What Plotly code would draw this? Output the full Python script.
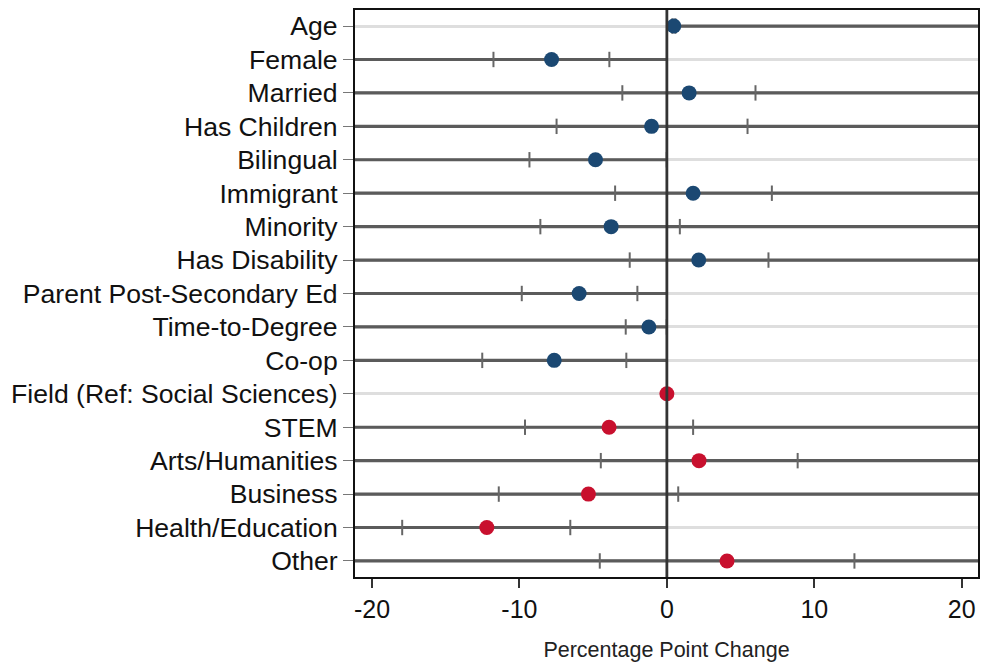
import plotly.graph_objects as go

# Coefficient estimates (percentage points) with 95% confidence bounds
labels = [
    "Age", "Female", "Married", "Has Children", "Bilingual", "Immigrant",
    "Minority", "Has Disability", "Parent Post-Secondary Ed", "Time-to-Degree",
    "Co-op", "Field (Ref: Social Sciences)", "STEM", "Arts/Humanities",
    "Business", "Health/Education", "Other",
]
estimates = [0.47, -7.82, 1.51, -1.04, -4.84, 1.78, -3.78, 2.16, -5.95, -1.22,
             -7.64, 0.0, -3.92, 2.18, -5.32, -12.21, 4.08]
ci_low = [0.37, -11.76, -3.02, -7.48, -9.32, -3.51, -8.58, -2.52, -9.84, -2.79,
          -12.52, None, -9.62, -4.48, -11.40, -17.95, -4.55]
ci_high = [0.58, -3.90, 6.01, 5.47, -0.01, 7.12, 0.88, 6.89, -2.00, -0.01,
           -2.75, None, 1.78, 8.87, 0.77, -6.55, 12.72]
groups = ["Personal"] * 11 + ["Field"] * 6

x_ticks = [-20, -10, 0, 10, 20]
X_MIN, X_MAX = -21.15, 21.1

GROUP_COLORS = {"Personal": "#1b4872", "Field": "#c8102e"}
LINE_DARK = "#5b5b5b"
FONT = "Liberation Sans, Arial, Helvetica, sans-serif"

fig = go.Figure()

# Horizontal reference lines: full span when the interval straddles zero,
# otherwise only on the side of zero where the interval lies
for lab, lo, hi in zip(labels, ci_low, ci_high):
    if lo is None:
        continue
    if lo < 0 < hi:
        xs = [X_MIN, X_MAX]
    elif hi <= 0:
        xs = [X_MIN, 0]
    else:
        xs = [0, X_MAX]
    fig.add_trace(go.Scatter(
        x=xs, y=[lab, lab], mode="lines",
        line=dict(color=LINE_DARK, width=3.2),
        hoverinfo="skip", showlegend=False,
    ))

# Interval end caps
cap_x, cap_y = [], []
for lab, lo, hi in zip(labels, ci_low, ci_high):
    if lo is None:
        continue
    cap_x += [lo, hi]
    cap_y += [lab, lab]
fig.add_trace(go.Scatter(
    x=cap_x, y=cap_y, mode="markers",
    marker=dict(symbol="line-ns", size=11, line=dict(color="#666666", width=2)),
    hoverinfo="skip", showlegend=False,
))

# Point estimates
for grp, col in GROUP_COLORS.items():
    xs = [e for e, g in zip(estimates, groups) if g == grp]
    ys = [l for l, g in zip(labels, groups) if g == grp]
    fig.add_trace(go.Scatter(
        x=xs, y=ys, mode="markers",
        marker=dict(color=col, size=15, line=dict(width=0)),
        name=grp, showlegend=False,
    ))

# Vertical zero line
fig.add_shape(type="line", xref="x", yref="paper", x0=0, x1=0, y0=0, y1=1,
              line=dict(color="#333333", width=2.8), layer="above")

fig.update_layout(
    width=982, height=662,
    margin=dict(l=355, r=2, t=10, b=84),
    plot_bgcolor="white", paper_bgcolor="white",
    font=dict(family=FONT, color="#111111"),
)
fig.update_xaxes(
    range=[X_MIN, X_MAX], tickvals=x_ticks, ticktext=[str(v) for v in x_ticks],
    tickfont=dict(size=25, family=FONT, color="#111111"),
    ticks="outside", ticklen=9, tickwidth=1.5, tickcolor="#333333",
    showgrid=False, zeroline=False,
    showline=True, linecolor="#111111", linewidth=2, mirror=True,
    title=dict(text="Percentage Point Change", font=dict(size=21.5, family=FONT, color="#222222"),
               standoff=22),
)
fig.update_yaxes(
    type="category", categoryorder="array", categoryarray=labels,
    range=[len(labels) - 0.52, -0.48],
    tickfont=dict(size=26.6, family=FONT, color="#111111"),
    ticks="outside", ticklen=10, tickwidth=1.2, tickcolor="#777777",
    showgrid=True, gridcolor="#dedede", gridwidth=3.2, zeroline=False,
    showline=True, linecolor="#111111", linewidth=2, mirror=True,
)

fig.write_html("out.html")
